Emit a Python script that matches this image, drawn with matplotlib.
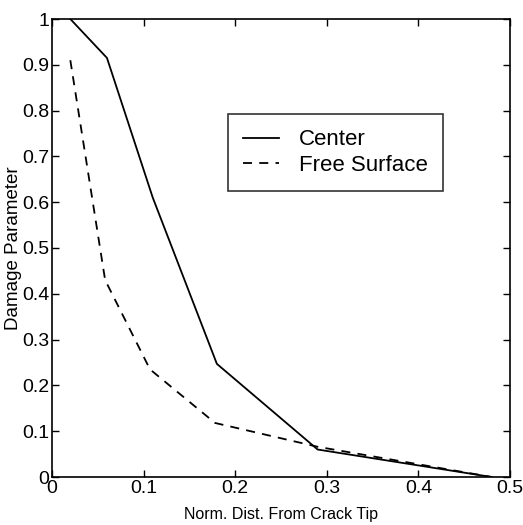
import numpy as np
import matplotlib
matplotlib.use('Agg')
import matplotlib.pyplot as plt

plt.rcParams['font.family'] = ['Liberation Sans', 'DejaVu Sans']

x_center = [0.02, 0.06, 0.11, 0.18, 0.29, 0.48]
y_center = [1.0, 0.915, 0.61, 0.247, 0.06, 0.0]

x_free = [0.02, 0.058, 0.107, 0.178, 0.29, 0.48]
y_free = [0.91, 0.43, 0.235, 0.118, 0.066, 0.0]

xticks = [0, 0.1, 0.2, 0.3, 0.4, 0.5]
yticks = [0, 0.1, 0.2, 0.3, 0.4, 0.5, 0.6, 0.7, 0.8, 0.9, 1]

fig = plt.figure(figsize=(5.23, 5.25), dpi=100)
ax = fig.add_axes([52/523, 1 - 477/525, 458/523, 458/525])

ax.plot(x_center, y_center, 'k-', lw=1.3, label='Center')
ax.plot(x_free, y_free, 'k--', lw=1.3, dashes=(5, 4), label='Free Surface')

ax.set_xlim(0, 0.5)
ax.set_ylim(0, 1)
ax.set_xticks(xticks)
ax.set_xticklabels(['0', '0.1', '0.2', '0.3', '0.4', '0.5'])
ax.set_yticks(yticks)
ax.set_yticklabels(['0', '0.1', '0.2', '0.3', '0.4', '0.5', '0.6', '0.7', '0.8', '0.9', '1'])
ax.tick_params(direction='in', top=True, right=True, length=5, width=1,
               labelsize=14, pad=2)
for s in ax.spines.values():
    s.set_linewidth(1.2)

ax.set_xlabel('Norm. Dist. From Crack Tip', fontsize=11.5, labelpad=7)
ax.set_ylabel('Damage Parameter', fontsize=13.5)
ax.yaxis.set_label_coords(-0.066, 0.5)

leg = ax.legend(loc='upper left', bbox_to_anchor=(0.384, 0.793), fontsize=16,
                frameon=True, fancybox=False, edgecolor='black', handlelength=1.6,
                borderpad=0.7, labelspacing=0.2, handletextpad=0.9,
                borderaxespad=0)
leg.get_frame().set_linewidth(1.2)

fig.savefig('out.png', dpi=100)
